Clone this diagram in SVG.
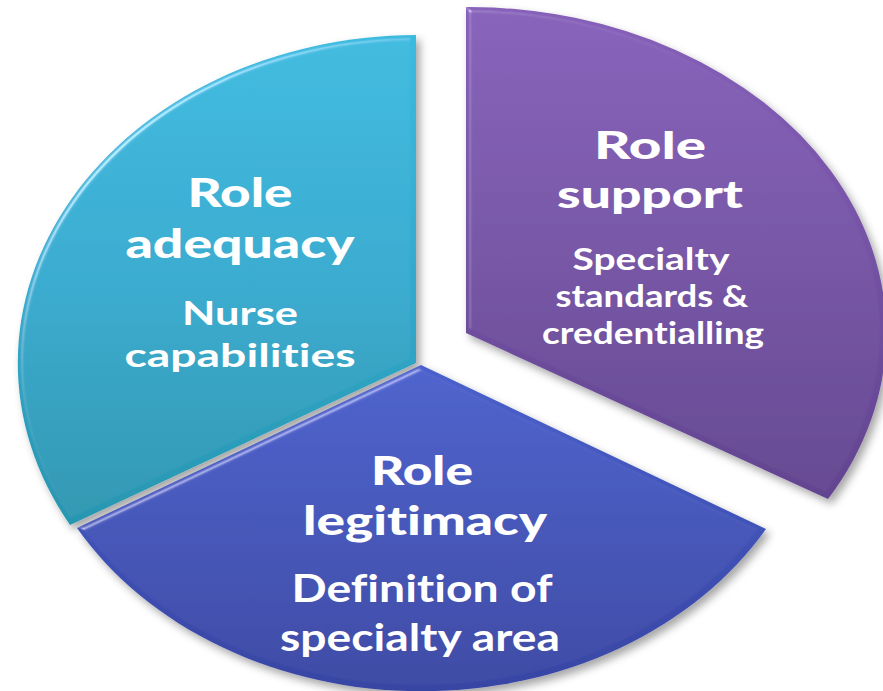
<svg xmlns="http://www.w3.org/2000/svg" width="883" height="691" viewBox="0 0 883 691">
  <defs>
    <style>
      .t { font-family: Lato, "Liberation Sans", sans-serif; fill: #ffffff; text-anchor: middle; font-weight: 900; font-variant-ligatures: none; }
      .s { font-family: Lato, "Liberation Sans", sans-serif; fill: #ffffff; text-anchor: middle; font-weight: 700; font-variant-ligatures: none; }
      .slice { filter: url(#fx); }
    </style>
    <linearGradient id="gTeal" x1="0" y1="0" x2="0" y2="1">
      <stop offset="0" stop-color="#3bbadf"/>
      <stop offset="0.5" stop-color="#33aace"/>
      <stop offset="1" stop-color="#2896b0"/>
    </linearGradient>
    <linearGradient id="gPurple" x1="0" y1="0" x2="0" y2="1">
      <stop offset="0" stop-color="#8660b9"/>
      <stop offset="1" stop-color="#624490"/>
    </linearGradient>
    <linearGradient id="gBlue" x1="0" y1="0" x2="0" y2="1">
      <stop offset="0" stop-color="#4960cc"/>
      <stop offset="1" stop-color="#3845a3"/>
    </linearGradient>
    <filter id="fx" x="-5%" y="-5%" width="115%" height="115%">
      <feGaussianBlur in="SourceAlpha" stdDeviation="4" result="sb"/>
      <feOffset in="sb" dx="4" dy="5" result="so"/>
      <feFlood flood-color="#000" flood-opacity="0.35"/>
      <feComposite in2="so" operator="in" result="shadow"/>
      <feGaussianBlur in="SourceAlpha" stdDeviation="2.5" result="bb"/>
      <feSpecularLighting in="bb" surfaceScale="4" specularConstant="0.45" specularExponent="30" lighting-color="#ffffff" result="spec">
        <feDistantLight azimuth="225" elevation="35"/>
      </feSpecularLighting>
      <feComposite in="spec" in2="SourceAlpha" operator="in" result="specIn"/>
      <feComposite in="SourceGraphic" in2="specIn" operator="arithmetic" k1="0" k2="1" k3="1" k4="0" result="lit"/>
      <feMerge>
        <feMergeNode in="shadow"/>
        <feMergeNode in="lit"/>
      </feMerge>
    </filter>
  </defs>

  <g id="connectors"></g>

  <g id="role-adequacy">
    <path class="slice" d="M416,363 L416,35 A400,328 0 0,0 70,525 Z" fill="url(#gTeal)"/>
    <text class="t" font-size="39"><tspan x="240" y="207" textLength="105" lengthAdjust="spacingAndGlyphs">Role</tspan><tspan x="240" y="258" textLength="229" lengthAdjust="spacingAndGlyphs">adequacy</tspan></text>
    <text class="s" font-size="32"><tspan x="240" y="325" textLength="116" lengthAdjust="spacingAndGlyphs">Nurse</tspan><tspan x="240" y="367" textLength="231" lengthAdjust="spacingAndGlyphs">capabilities</tspan></text>
  </g>

  <g id="role-support">
    <path class="slice" d="M466,333 L466,7 A418,326 0 0,1 828,499 Z" fill="url(#gPurple)"/>
    <text class="t" font-size="38"><tspan x="650" y="159" textLength="112" lengthAdjust="spacingAndGlyphs">Role</tspan><tspan x="650" y="208" textLength="186" lengthAdjust="spacingAndGlyphs">support</tspan></text>
    <text class="s" font-size="31"><tspan x="651" y="270" textLength="157" lengthAdjust="spacingAndGlyphs">Specialty</tspan><tspan x="652" y="307" textLength="193" lengthAdjust="spacingAndGlyphs">standards &amp;</tspan><tspan x="653" y="344" textLength="222" lengthAdjust="spacingAndGlyphs">credentialling</tspan></text>
  </g>

  <g id="role-legitimacy">
    <path class="slice" d="M421,365 L766,529 A398,326 0 0,1 77,528 Z" fill="url(#gBlue)"/>
    <text class="t" font-size="40"><tspan x="422" y="485" textLength="102" lengthAdjust="spacingAndGlyphs">Role</tspan><tspan x="425" y="535" textLength="244" lengthAdjust="spacingAndGlyphs">legitimacy</tspan></text>
    <text class="s" font-size="38"><tspan x="422" y="602" textLength="261" lengthAdjust="spacingAndGlyphs">Definition of</tspan><tspan x="420" y="651" textLength="280" lengthAdjust="spacingAndGlyphs">specialty area</tspan></text>
  </g>
</svg>
